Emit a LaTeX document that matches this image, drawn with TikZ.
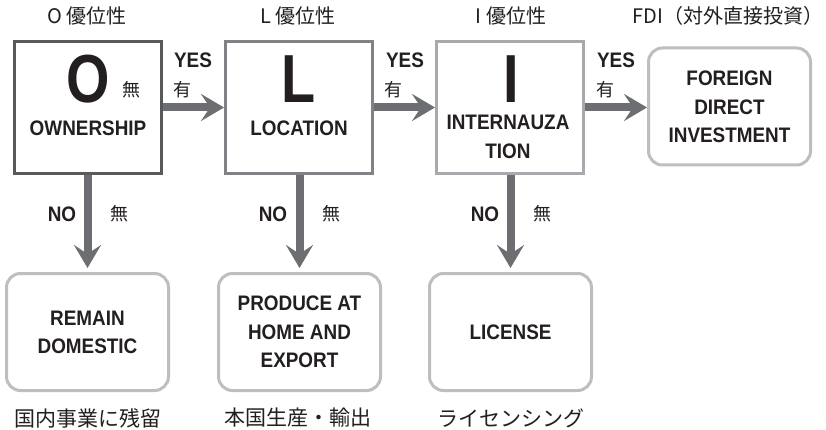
\documentclass[tikz,border=0pt]{standalone}
\usepackage{fontspec}
\setmainfont{Liberation Sans}[FakeStretch=0.9]
\newfontfamily\bigf{Liberation Sans}[FakeStretch=0.82]
\newfontfamily\jp{Noto Sans CJK JP}
\usetikzlibrary{arrows.meta}
\definecolor{arr}{HTML}{6D6E71}
\definecolor{bO}{HTML}{58595B}
\definecolor{bL}{HTML}{808285}
\definecolor{bI}{HTML}{A7A9AC}
\definecolor{bR}{HTML}{BCBEC0}
\definecolor{txt}{HTML}{231F20}
\tikzset{
  sq/.style={draw, line width=3pt, minimum width=147pt, minimum height=132pt, inner sep=0pt},
  rbox/.style={draw=bR, line width=3pt, rounded corners=14pt, minimum width=162pt, minimum height=117pt, inner sep=0pt},
  lbl/.style={font=\bfseries\fontsize{21}{28.5}\selectfont, text=txt, align=center, inner sep=0pt},
  big/.style={font=\bigf\bfseries\fontsize{68}{68}\selectfont, text=txt, inner sep=0pt},
  jpt/.style={font=\jp\fontsize{20}{20}\selectfont, text=txt, inner sep=0pt},
  jps/.style={font=\jp\fontsize{18}{18}\selectfont, text=txt, inner sep=0pt},
  jpb/.style={font=\jp\fontsize{21}{21}\selectfont, text=txt, inner sep=0pt},
  arrowst/.style={draw=arr, line width=8pt, -{Stealth[length=23pt,width=27pt,inset=9pt]}}
}
\begin{document}
\begin{tikzpicture}[x=1pt,y=-1pt]
\useasboundingbox[fill=white] (0,0) rectangle (826,430);
% top labels
\node[jpt] (tO) at (87,16) {O 優位性};
\node[jpt] (tL) at (298,16) {L 優位性};
\node[jpt] (tI) at (511,16) {I 優位性};
\node[jpt] (tF) at (728,16) {FDI（対外直接投資）};
% main boxes
\node[sq, draw=bO] (O) at (88,107.5) {};
\node[sq, draw=bL] (L) at (299,107.5) {};
\node[sq, draw=bI] (I) at (510,107.5) {};
\node[rbox] (F) at (729.5,106.5) {};
% box contents
\node[big] (Ob) at (88,79) {O};
\node[big] (Lb) at (299,79) {L};
\node[big] (Ib) at (511,79) {I};
\node[jps] (Om) at (131,90) {無};
\node[lbl] (Ot) at (88,128) {OWNERSHIP};
\node[lbl] (Lt) at (299,128) {LOCATION};
\node[lbl] (It) at (508,137) {INTERNAUZA\\TION};
\node[lbl] (Ft) at (729.5,107) {FOREIGN\\DIRECT\\INVESTMENT};
% bottom boxes
\node[rbox] (RD) at (87.5,332) {};
\node[rbox] (PH) at (299.5,332) {};
\node[rbox] (LC) at (510.5,332) {};
\node[lbl] (RDt) at (87.5,332.5) {REMAIN\\DOMESTIC};
\node[lbl] (PHt) at (299.5,332) {PRODUCE AT\\HOME AND\\EXPORT};
\node[lbl] (LCt) at (510.5,332) {LICENSE};
% bottom labels
\node[jpb] (bRD) at (88,418) {国内事業に残留};
\node[jpb] (bPH) at (298,418) {本国生産・輸出};
\node[jpb] (bLC) at (511,418) {ライセンシング};
% arrows
\draw[arrowst] (O.east) -- (L.west);
\draw[arrowst] (L.east) -- (I.west);
\draw[arrowst] (I.east) -- (F.west |- I.east);
\draw[arrowst] (O.south -| RD.north) -- ([yshift=4pt]RD.north);
\draw[arrowst] (L.south -| PH.north) -- ([yshift=4pt]PH.north);
\draw[arrowst] (I.south -| LC.north) -- ([yshift=4pt]LC.north);
% YES / NO labels
\node[lbl] (y1) at (193,60) {YES};
\node[jps] (h1) at (182,90) {有};
\node[lbl] (y2) at (405,60) {YES};
\node[jps] (h2) at (393,90) {有};
\node[lbl] (y3) at (616,60) {YES};
\node[jps] (h3) at (605,90) {有};
\node[lbl] (n1) at (62,214) {NO};
\node[jps] (m1) at (119,214) {無};
\node[lbl] (n2) at (273,214) {NO};
\node[jps] (m2) at (331,214) {無};
\node[lbl] (n3) at (485,214) {NO};
\node[jps] (m3) at (542,214) {無};
\end{tikzpicture}
\end{document}
